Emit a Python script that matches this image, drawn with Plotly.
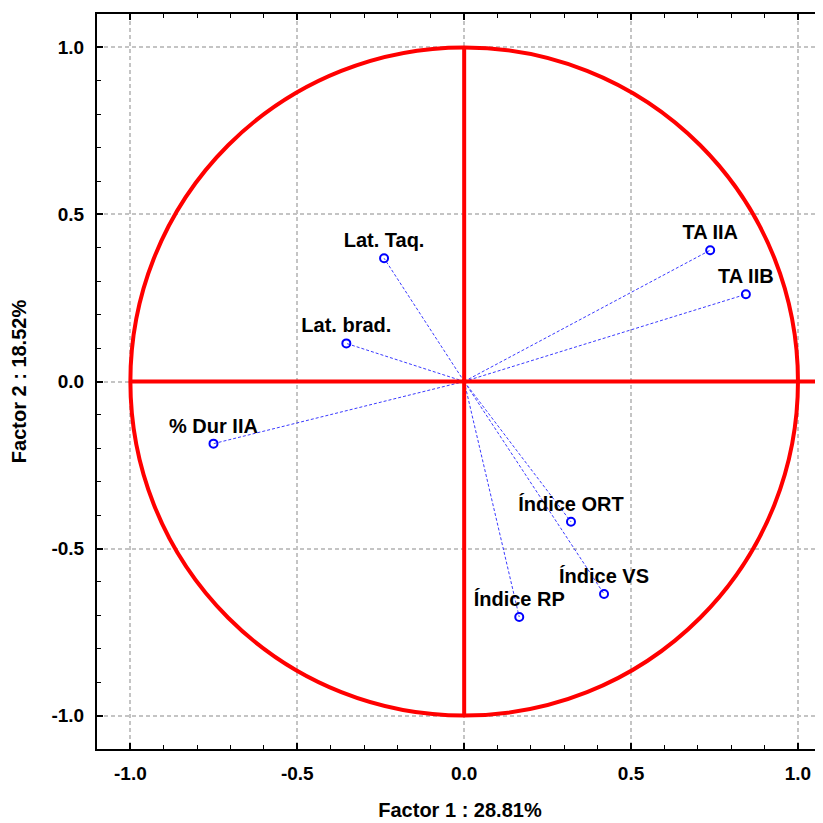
import plotly.graph_objects as go

labels = ["Lat. Taq.", "Lat. brad.", "% Dur IIA", "TA IIA", "TA IIB",
          "Índice ORT", "Índice VS", "Índice RP"]
factor1 = [-0.240, -0.353, -0.751, 0.737, 0.844, 0.320, 0.419, 0.165]
factor2 = [0.369, 0.114, -0.186, 0.393, 0.261, -0.420, -0.636, -0.705]

x_title = "Factor 1 : 28.81%"
y_title = "Factor 2 : 18.52%"
tick_vals = [-1.0, -0.5, 0.0, 0.5, 1.0]
tick_text = ["-1.0", "-0.5", "0.0", "0.5", "1.0"]

FONT = "Liberation Sans, Arial, sans-serif"

fig = go.Figure()

# vectors from origin
for xv, yv in zip(factor1, factor2):
    fig.add_trace(go.Scatter(x=[0, xv], y=[0, yv], mode="lines",
                             line=dict(color="#3a3aff", width=1, dash="3px,2px"),
                             hoverinfo="skip", showlegend=False))

fig.add_trace(go.Scatter(
    x=factor1, y=factor2, mode="markers+text", text=labels,
    textposition="top center",
    textfont=dict(family=FONT, size=20, color="black", weight="bold"),
    marker=dict(symbol="circle-open", size=8, color="#0000ff", line=dict(width=2)),
    showlegend=False))

red = "#ff0000"
fig.add_shape(type="circle", x0=-1, y0=-1, x1=1, y1=1, xref="x", yref="y",
              line=dict(color=red, width=4), layer="above")
fig.add_shape(type="line", x0=-1, y0=0, x1=1.075, y1=0, xref="x", yref="y",
              line=dict(color=red, width=4), layer="above")
fig.add_shape(type="line", x0=0, y0=-1, x1=0, y1=1, xref="x", yref="y",
              line=dict(color=red, width=4), layer="above")

axis_common = dict(
    showline=True, linecolor="black", linewidth=2,
    showgrid=True, gridcolor="#c4c4c4", griddash="4px,3px", gridwidth=1.5,
    zeroline=False, ticks="inside", ticklen=6, tickwidth=1.5, tickcolor="black",
    tickvals=tick_vals, ticktext=tick_text,
    tickfont=dict(family=FONT, size=19, color="black", weight="bold"),
    minor=dict(dtick=0.1, tick0=0, ticks="inside", ticklen=4, tickcolor="black",
               tickwidth=1.2, showgrid=False),
)

fig.update_xaxes(range=[-1.1, 1.075], mirror="ticks", ticklabelstandoff=6,
                 title=dict(text=x_title, font=dict(family=FONT, size=20, color="black", weight="bold"),
                            standoff=20),
                 **axis_common)
fig.update_yaxes(range=[-1.1, 1.1], mirror=False, ticklabelstandoff=7,
                 title=dict(text=y_title, font=dict(family=FONT, size=20, color="black", weight="bold"),
                            standoff=19),
                 **axis_common)

fig.update_layout(
    width=815, height=815,
    margin=dict(l=89, r=0, t=6, b=74),
    plot_bgcolor="white", paper_bgcolor="white",
    showlegend=False,
)

fig.write_html("out.html")
